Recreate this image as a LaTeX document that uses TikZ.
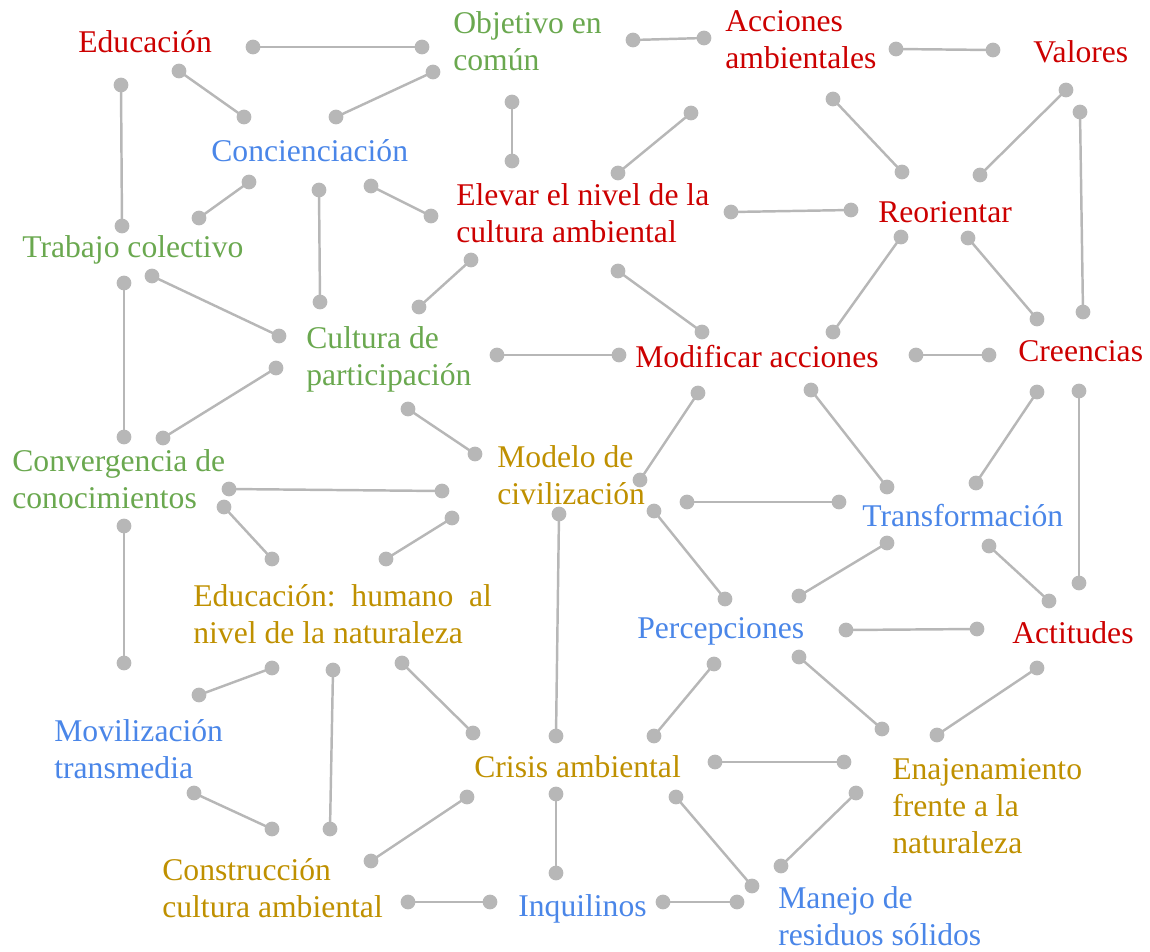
\documentclass[tikz,border=0pt]{standalone}
\usepackage{fontspec}
\setmainfont{Liberation Serif}
\definecolor{conceptred}{HTML}{CC0000}
\definecolor{conceptgreen}{HTML}{6AA84F}
\definecolor{conceptblue}{HTML}{4A86E8}
\definecolor{conceptgold}{HTML}{BF9000}
\definecolor{linkgray}{HTML}{B7B7B7}
\tikzset{
  concept/.style={anchor=base west, inner sep=0pt, align=left, font=\fontsize{18}{21}\selectfont},
  link/.style={draw=linkgray, line width=1.4pt},
  knob/.style={fill=linkgray},
}
\begin{document}
\begin{tikzpicture}[x=0.02cm, y=-0.02cm]
    \useasboundingbox (0,0) rectangle (1150,951);

    % Concepts (placed at the baseline of their last line)
    \node[concept, text=conceptred] (edu) at (78,52) {Educación};
    \node[concept, text=conceptgreen] (obj) at (453,70) {Objetivo en\\común};
    \node[concept, text=conceptred] (acc) at (725,68) {Acciones\\ambientales};
    \node[concept, text=conceptred] (val) at (1033,62) {Valores};
    \node[concept, text=conceptblue] (conc) at (211,161) {Concienciación};
    \node[concept, text=conceptred] (elev) at (456,242) {Elevar el nivel de la\\cultura ambiental};
    \node[concept, text=conceptred] (reo) at (878,222) {Reorientar};
    \node[concept, text=conceptgreen] (trab) at (22,257) {Trabajo colectivo};
    \node[concept, text=conceptgreen] (cult) at (306,385) {Cultura de\\participación};
    \node[concept, text=conceptred] (modif) at (635,367) {Modificar acciones};
    \node[concept, text=conceptred] (cree) at (1018,361) {Creencias};
    \node[concept, text=conceptgreen] (conv) at (12,508) {Convergencia de\\conocimientos};
    \node[concept, text=conceptgold] (mod) at (497,504) {Modelo de\\civilización};
    \node[concept, text=conceptblue] (transf) at (862,526) {Transformación};
    \node[concept, text=conceptgold] (eduhum) at (193,643) {Educación:\ \ humano\ \ al\\nivel de la naturaleza};
    \node[concept, text=conceptblue] (perc) at (637,638) {Percepciones};
    \node[concept, text=conceptred] (act) at (1012,643) {Actitudes};
    \node[concept, text=conceptblue] (movil) at (54,778) {Movilización\\transmedia};
    \node[concept, text=conceptgold] (crisis) at (474,777) {Crisis ambiental};
    \node[concept, text=conceptgold] (enaj) at (892,853) {Enajenamiento\\frente a la\\naturaleza};
    \node[concept, text=conceptgold] (constr) at (162,917) {Construcción\\cultura ambiental};
    \node[concept, text=conceptblue] (inq) at (518,916) {Inquilinos};
    \node[concept, text=conceptblue] (manejo) at (778,945) {Manejo de\\residuos sólidos};

    % Links
    \foreach \n/\ax/\ay/\bx/\by in {
        1/253/47/422/47, 2/179/71/244/117, 3/433/72/336/117, 4/121/85/122/226,
        5/249/182/199/218, 6/319/190/320/302, 7/371/186/431/216, 8/152/276/279/336,
        9/124/283/124/437, 10/633/40/704/38, 11/512/102/512/161, 12/618/173/691/113,
        13/731/212/851/210, 14/471/260/419/307, 15/618/271/702/332, 16/896/49/993/50,
        17/833/99/902/172, 18/1066/90/980/175, 19/1080/112/1083/312, 20/901/237/833/332,
        21/968/238/1037/319, 22/276/368/163/438, 23/229/489/442/491, 24/224/507/272/559,
        25/452/518/386/559, 26/124/526/124/663, 27/497/355/619/355, 28/408/409/475/454,
        29/698/393/640/480, 30/559/514/556/736, 31/654/511/725/599, 32/687/502/839/502,
        33/916/355/989/355, 34/811/390/887/487, 35/1037/392/976/483, 36/1079/391/1079/583,
        37/887/543/799/596, 38/989/546/1049/601, 39/846/630/977/629, 40/272/668/199/695,
        41/333/670/330/829, 42/194/793/272/829, 43/402/663/473/733, 44/467/797/371/861,
        45/714/664/654/736, 46/715/762/844/762, 47/556/794/556/873, 48/676/797/752/886,
        49/408/902/490/902, 50/663/902/737/902, 51/799/657/882/729, 52/1037/668/937/735,
        53/856/793/781/866}
    {
        \coordinate (s\n) at (\ax,\ay);
        \coordinate (t\n) at (\bx,\by);
        \draw[link] (s\n) -- (t\n);
        \fill[knob] (s\n) circle (4.2pt) (t\n) circle (4.2pt);
    }
\end{tikzpicture}
\end{document}
